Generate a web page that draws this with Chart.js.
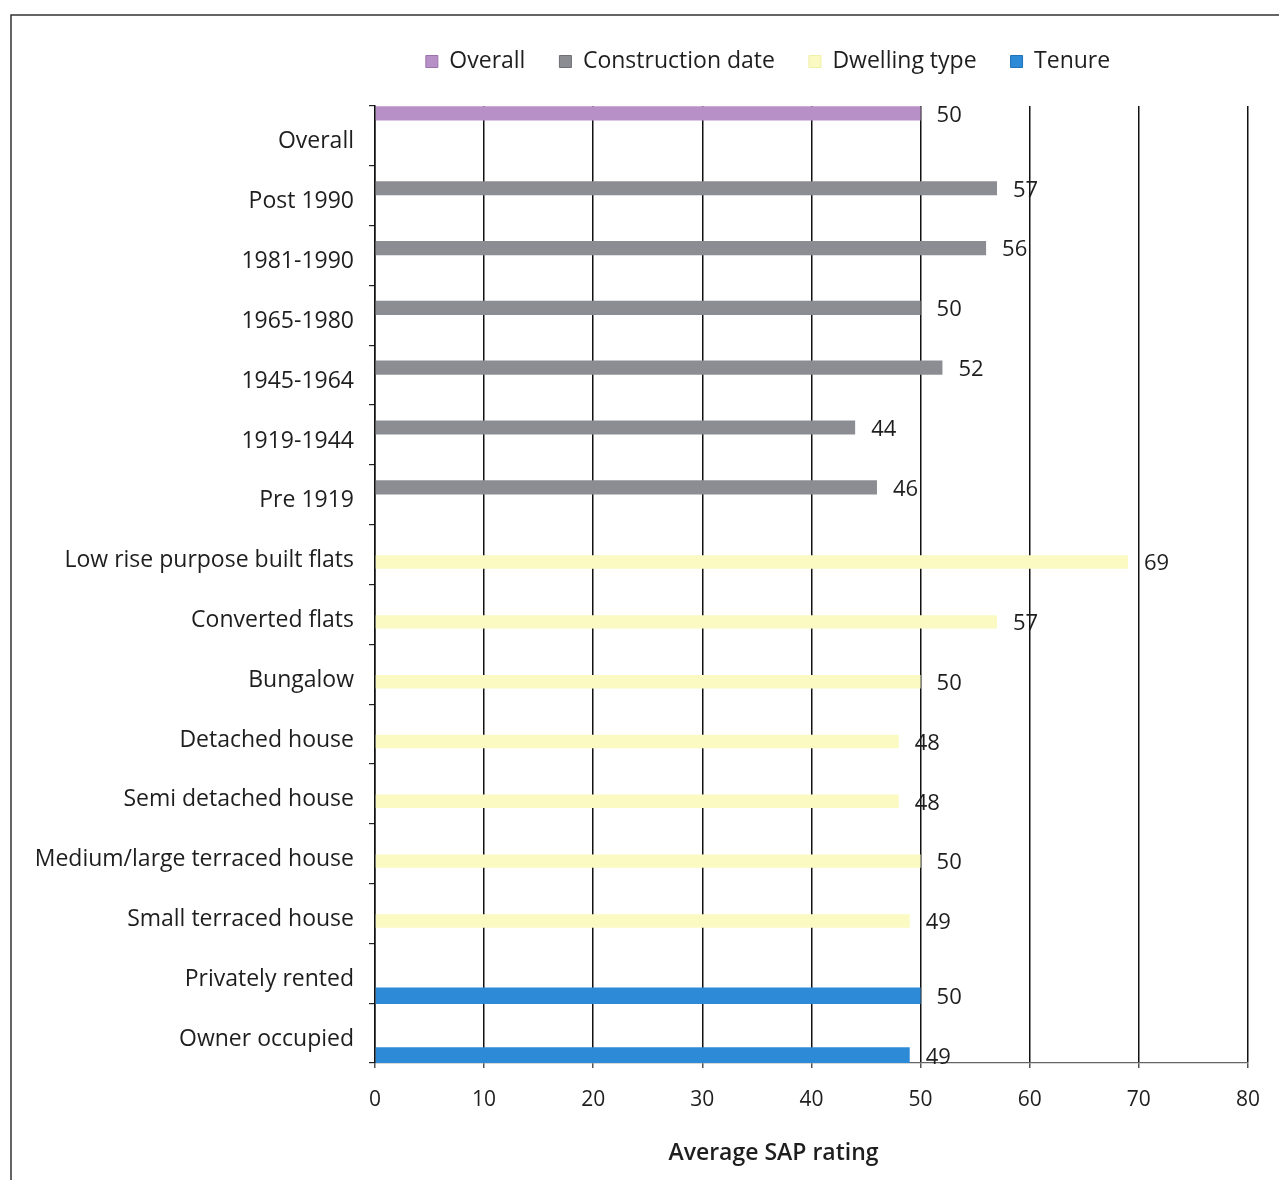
<!DOCTYPE html>
<html>
<head>
<meta charset="utf-8">
<script src="https://cdn.jsdelivr.net/npm/chart.js@4/dist/chart.umd.min.js"></script>
<style>
  html, body { margin: 0; padding: 0; background: #fff; }
  #wrap { width: 1279px; height: 1180px; position: relative; }
</style>
</head>
<body>
<div id="wrap"><canvas id="c" width="1279" height="1180"></canvas></div>
<script>
const categories = [
  "Overall", "Post 1990", "1981-1990", "1965-1980", "1945-1964", "1919-1944", "Pre 1919",
  "Low rise purpose built flats", "Converted flats", "Bungalow", "Detached house",
  "Semi detached house", "Medium/large terraced house", "Small terraced house",
  "Privately rented", "Owner occupied"
];
const overallValues      = [50, null, null, null, null, null, null, null, null, null, null, null, null, null, null, null];
const constructionValues = [null, 57, 56, 50, 52, 44, 46, null, null, null, null, null, null, null, null, null];
const dwellingValues     = [null, null, null, null, null, null, null, 69, 57, 50, 48, 48, 50, 49, null, null];
const tenureValues       = [null, null, null, null, null, null, null, null, null, null, null, null, null, null, 50, 49];
const seriesNames = ["Overall", "Construction date", "Dwelling type", "Tenure"];
const xTicks = [0, 10, 20, 30, 40, 50, 60, 70, 80];
const xTitle = "Average SAP rating";

const FONT = "'Open Sans', Lato, sans-serif";
const TEXT = "#1e1e1e";

const framePlugin = {
  id: 'frame',
  beforeDraw(chart) {
    const ctx = chart.ctx;
    ctx.save();
    ctx.strokeStyle = '#333';
    ctx.lineWidth = 1.5;
    ctx.beginPath();
    ctx.moveTo(11, 1180);
    ctx.lineTo(11, 15);
    ctx.lineTo(1279, 15);
    ctx.stroke();
    ctx.restore();
  },
  beforeLayout(chart) {
    const lg = chart.legend;
    if (lg && !lg._patched) {
      lg._patched = true;
      const origFit = lg.fit;
      lg.fit = function () { origFit.call(this); this.height = 92; };
      const origDraw = lg.draw;
      lg.draw = function () {
        const ctx = this.ctx;
        ctx.save();
        ctx.translate(144, 2);
        origDraw.call(this);
        ctx.restore();
      };
    }
    const xs = chart.scales && chart.scales.x;
    if (xs && !xs._patched) {
      xs._patched = true;
      const origTitle = xs.drawTitle;
      xs.drawTitle = function () {
        const ctx = this.ctx;
        ctx.save();
        ctx.translate(-38, 0);
        origTitle.apply(this, arguments);
        ctx.restore();
      };
    }
  }
};

const valueLabels = {
  id: 'valueLabels',
  afterDatasetsDraw(chart) {
    const ctx = chart.ctx;
    ctx.save();
    ctx.font = "22px " + FONT;
    ctx.fillStyle = TEXT;
    ctx.textAlign = 'left';
    ctx.textBaseline = 'middle';
    chart.data.datasets.forEach((ds, di) => {
      const meta = chart.getDatasetMeta(di);
      meta.data.forEach((el, i) => {
        const v = ds.data[i];
        if (v === null || v === undefined) return;
        ctx.fillText(String(v), el.x + 16, el.y + 2);
      });
    });
    ctx.restore();
  }
};

new Chart(document.getElementById('c'), {
  type: 'bar',
  data: {
    labels: categories,
    datasets: [
      { label: seriesNames[0], data: overallValues, backgroundColor: '#b890c8', borderColor: '#9a72ad', borderWidth: 0, categoryPercentage: 1, barPercentage: 0.95 },
      { label: seriesNames[1], data: constructionValues, backgroundColor: '#8c8d93', borderColor: '#6f7076', borderWidth: 0, categoryPercentage: 1, barPercentage: 0.95 },
      { label: seriesNames[2], data: dwellingValues, backgroundColor: '#fafac2', borderColor: '#f0f0a8', borderWidth: 0, categoryPercentage: 1, barPercentage: 0.9 },
      { label: seriesNames[3], data: tenureValues, backgroundColor: '#2d8ad6', borderColor: '#1f72b8', borderWidth: 0, categoryPercentage: 1, barPercentage: 1.1 }
    ]
  },
  options: {
    indexAxis: 'y',
    responsive: false,
    animation: false,
    layout: { padding: { top: 14, right: 31, left: 0, bottom: 0 } },
    plugins: {
      legend: {
        position: 'top',
        align: 'center',
        labels: {
          font: { family: FONT, size: 23 },
          color: TEXT,
          boxWidth: 12,
          boxHeight: 12,
          padding: 34,
          generateLabels(chart) {
            return chart.data.datasets.map((ds, i) => ({
              text: ds.label,
              fillStyle: ds.backgroundColor,
              strokeStyle: ds.borderColor,
              lineWidth: 1,
              hidden: false,
              datasetIndex: i,
              fontColor: TEXT
            }));
          }
        }
      },
      tooltip: { enabled: false },
      title: { display: false }
    },
    scales: {
      x: {
        type: 'linear',
        min: 0,
        max: 80,
        afterBuildTicks(scale) { scale.ticks = xTicks.map(v => ({ value: v })); },
        afterFit(scale) { scale.height = 117; },
        ticks: {
          font: { family: FONT, size: 21 },
          color: TEXT,
          padding: 19
        },
        grid: {
          color: '#111',
          lineWidth: 1.5,
          drawTicks: true,
          tickLength: 5,
          tickColor: '#555'
        },
        border: { display: true, color: '#666', width: 1.2 },
        title: {
          display: true,
          text: xTitle,
          font: { family: FONT, size: 23, weight: '600' },
          color: TEXT,
          padding: { top: 0, bottom: 13 }
        }
      },
      y: {
        type: 'category',
        offset: true,
        afterFit(scale) { scale.width = 375; },
        ticks: {
          font: { family: FONT, size: 23 },
          color: TEXT,
          padding: 15,
          labelOffset: 6,
          autoSkip: false
        },
        grid: {
          offset: true,
          drawOnChartArea: false,
          drawTicks: true,
          tickLength: 6,
          color: '#222',
          lineWidth: 1.2
        },
        border: { display: true, color: '#111', width: 1.5 }
      }
    }
  },
  plugins: [framePlugin, valueLabels]
});
</script>
</body>
</html>
